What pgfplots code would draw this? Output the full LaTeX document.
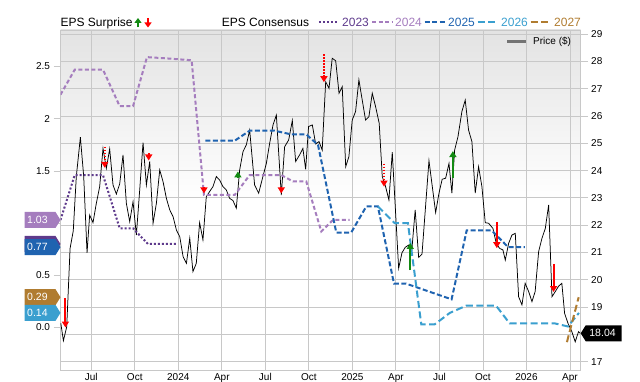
\documentclass[border=0pt]{standalone}
\usepackage{fontspec}
\setmainfont{Liberation Sans}
\usepackage{pgfplots}
\pgfplotsset{compat=1.18}
\usetikzlibrary{arrows.meta}
\definecolor{cA}{HTML}{5E3A8C}
\definecolor{cB}{HTML}{A57DBE}
\definecolor{cC}{HTML}{1F63B0}
\definecolor{cD}{HTML}{3A9FCF}
\definecolor{cE}{HTML}{B07C30}
\definecolor{gridc}{HTML}{C8C8C8}
\definecolor{upg}{HTML}{138A13}
\definecolor{dnr}{HTML}{FF0000}
\newcommand\tagL[3]{%
 \fill[#2] (#1) -- ++(-5bp,8bp) -- ++(-31bp,0) -- ++(0,-16bp) -- ++(31bp,0) -- cycle;
 \node[anchor=west, inner sep=0pt, text=white, font=\fontsize{10.5bp}{12bp}\selectfont] at ([xshift=-33.5bp]#1) {#3};}
\pgfplotsset{
 common/.style={at={(60.5bp,12bp)}, anchor=south west, width=520.2bp, height=340bp, scale only axis,
   xmin=-8.12, xmax=27.74,
   tick label style={font=\fontsize{10bp}{12bp}\selectfont, text=black},
   tick align=outside, major tick length=7bp,
   every tick/.style={draw=gridc, line width=0.8bp}},
 up/.style={upg, line width=2bp, -{Triangle[width=7bp,length=6bp]}},
 dn/.style={dnr, line width=2bp, -{Triangle[width=7bp,length=6bp]}},
 dot/.style={dash pattern=on 1.5bp off 1.5bp},
}
\begin{document}
\begin{tikzpicture}
\path[use as bounding box] (0,0) rectangle (640bp,382bp);
% ---------- price axis ----------
\begin{axis}[common,
  ymin=16.696, ymax=29.146,
  ytick={17,18,19,20,21,22,23,24,25,26,27,28,29},
  yticklabels={17,,19,20,21,22,23,24,25,26,27,28,29},
  ytick pos=right, yticklabel pos=right,
  xtick={-6,-3,0,3,6,9,12,15,18,21,24,27},
  xticklabels={Jul,Oct,2024,Apr,Jul,Oct,2025,Apr,Jul,Oct,2026,Apr},
  xtick pos=bottom,
  x tick style={draw=none},
  xticklabel style={inner sep=0pt, anchor=north, yshift=3.5bp},
  grid=major, grid style={gridc, line width=0.8bp},
  axis line style={gridc, line width=0.8bp},
  axis background/.style={top color=black!11, bottom color=white, middle color=white},
]
\addplot[black, line width=0.75bp] table {
m p
-8.10 18.41
-7.92 17.77
-7.69 18.28
-7.46 21.15
-7.24 21.79
-7.03 23.78
-6.75 25.22
-6.52 23.78
-6.29 20.99
-6.11 22.37
-5.88 22.09
-5.65 22.80
-5.42 23.41
-5.19 24.81
-4.96 24.08
-4.73 24.79
-4.50 23.47
-4.27 23.14
-4.04 23.51
-3.81 24.57
-3.58 22.80
-3.35 22.13
-3.12 22.86
-2.89 21.64
-2.66 23.29
-2.43 25.02
-2.20 23.47
-1.97 24.33
-1.74 22.07
-1.51 22.80
-1.28 24.02
-1.05 23.59
-0.82 22.98
-0.59 22.56
-0.36 22.31
-0.13 21.82
0.10 21.58
0.33 20.85
0.56 20.60
0.79 21.52
1.01 20.30
1.24 20.60
1.47 22.09
1.70 21.46
1.93 23.04
2.16 23.23
2.39 23.41
2.62 23.78
2.85 23.65
3.08 23.41
3.31 23.29
3.54 22.98
3.77 22.90
4.00 22.62
4.23 24.02
4.46 24.69
4.69 24.94
4.92 25.48
5.26 23.47
5.54 23.17
5.77 23.65
6.07 24.26
6.30 25.00
6.53 25.67
6.76 26.03
7.10 23.10
7.33 24.87
7.61 25.12
7.86 25.83
8.09 24.33
8.36 24.57
8.59 24.81
8.78 24.04
8.98 25.61
9.24 25.67
9.47 24.97
9.70 25.06
9.92 24.75
10.16 27.25
10.39 27.01
10.61 28.11
10.85 28.02
11.08 26.83
11.30 27.07
11.54 24.14
11.76 24.51
11.99 25.85
12.22 26.16
12.45 27.32
12.68 26.58
12.91 25.85
13.14 25.97
13.37 26.83
13.60 26.34
13.85 25.73
14.06 23.78
14.29 23.41
14.52 22.92
14.75 24.67
15.19 20.42
15.42 20.99
15.65 21.19
15.88 21.27
16.10 21.09
16.33 22.56
16.57 20.82
16.80 20.94
17.28 24.36
17.51 23.41
17.74 22.46
17.97 23.17
18.19 23.68
18.43 23.72
18.66 24.26
18.86 23.17
19.05 24.75
19.28 25.24
19.55 26.16
19.78 26.58
20.01 25.48
20.24 25.06
20.47 23.17
20.70 24.14
20.93 23.41
21.16 22.09
21.39 22.07
21.69 21.88
21.92 21.33
22.15 21.15
22.38 21.09
22.54 20.72
22.77 21.33
23.00 21.64
23.23 21.70
23.46 19.38
23.69 19.08
23.91 19.87
24.15 19.57
24.38 19.20
24.60 19.57
24.84 21.03
25.07 21.52
25.30 21.88
25.53 22.74
25.76 19.38
25.99 19.57
26.22 19.77
26.44 19.87
26.63 18.77
26.86 18.41
27.13 18.10
27.36 17.73
27.59 18.10
27.70 18.04
};
\coordinate (pr) at (axis cs:27.74,18.04);
\end{axis}
% ---------- EPS axis ----------
\begin{axis}[common,
  ymin=-0.407, ymax=2.850,
  axis line style={draw=none},
  xtick=\empty,
  ytick={0,0.5,1,1.5,2,2.5},
  yticklabels={0.0,0.5,,1.5,2,2.5},
  ytick pos=left, yticklabel pos=left,
]
% 2023
\addplot[cA, line width=2bp, dash pattern=on 2bp off 2bp] coordinates {
(-8.12,1.03) (-7.14,1.46) (-5.19,1.46) (-4.04,0.95) (-3.12,0.95) (-2.09,0.80) (-0.14,0.80)};
% 2024
\addplot[cB, line width=2bp, dash pattern=on 4bp off 2.5bp] coordinates {
(-8.12,2.23) (-7.14,2.47) (-5.19,2.47) (-4.04,2.12) (-3.12,2.12) (-2.16,2.59) (-1.0,2.58) (0.92,2.56)
(1.77,1.27) (3.89,1.27) (4.92,1.46) (7.10,1.46) (7.90,1.40) (8.82,1.40) (9.86,0.92) (10.66,1.03) (11.81,1.03)};
% 2025
\addplot[cC, line width=2bp, dash pattern=on 5bp off 2.5bp] coordinates {
(1.86,1.79) (3.89,1.79) (4.92,1.885) (6.64,1.885) (7.79,1.85) (8.82,1.85) (9.63,1.75) (10.89,0.91)
(11.92,0.91) (12.96,1.16) (13.76,1.16) (14.87,0.42) (15.71,0.42) (18.84,0.27) (19.88,0.93)
(21.60,0.93) (22.74,0.77) (23.89,0.77)};
% 2026
\addplot[cD, line width=2bp, dash pattern=on 7bp off 3.5bp] coordinates {
(13.76,1.16) (14.91,1.00) (15.83,1.00) (16.75,0.03) (17.67,0.03) (18.72,0.14) (19.86,0.21)
(21.90,0.21) (22.84,0.04) (25.94,0.04) (26.86,0.01) (27.62,0.14)};
% 2027
\addplot[cE, line width=2bp, dash pattern=on 7bp off 3.5bp] coordinates {
(26.79,-0.14) (27.60,0.29)};
% EPS surprise arrows
\addplot[dn] coordinates {(-7.78,0.28) (-7.78,0.0)};
\addplot[dn, dot] coordinates {(-5.07,1.73) (-5.07,1.53)};
\addplot[dn, dot] coordinates {(-2.04,1.67) (-2.04,1.60)};
\addplot[dn] coordinates {(1.77,1.345) (1.77,1.285)};
\addplot[up] coordinates {(4.11,1.43) (4.11,1.495)};
\addplot[dn] coordinates {(7.10,1.345) (7.10,1.285)};
\addplot[dn, dot] coordinates {(10.04,2.62) (10.04,2.35)};
\addplot[dn, dot] coordinates {(14.18,1.57) (14.18,1.35)};
\addplot[up] coordinates {(15.99,0.55) (15.99,0.81)};
\addplot[up] coordinates {(18.93,1.43) (18.93,1.69)};
\addplot[dn] coordinates {(21.96,1.01) (21.96,0.76)};
\addplot[dn] coordinates {(25.87,0.61) (25.87,0.34)};
\coordinate (t23) at (axis cs:-8.12,0.80);
\coordinate (t25) at (axis cs:-8.12,0.77);
\coordinate (t24) at (axis cs:-8.12,1.03);
\coordinate (t27) at (axis cs:-8.12,0.29);
\coordinate (t26) at (axis cs:-8.12,0.14);
\end{axis}
% ---------- value tags ----------
\fill[cA] (t23) -- ++(-5bp,8bp) -- ++(-31bp,0) -- ++(0,-16bp) -- ++(31bp,0) -- cycle;
\tagL{t25}{cC}{0.77}
\tagL{t24}{cB}{1.03}
\tagL{t27}{cE}{0.29}
\tagL{t26}{cD}{0.14}
\fill[black] (pr) -- ++(5bp,8bp) -- ++(36bp,0) -- ++(0,-16bp) -- ++(-36bp,0) -- cycle;
\node[anchor=west, inner sep=0pt, text=white, font=\fontsize{10.5bp}{12bp}\selectfont] at ([xshift=8.5bp]pr) {18.04};
% ---------- legend ----------
\begin{scope}[font=\fontsize{12bp}{14bp}\selectfont]
\node[anchor=base west, inner sep=0pt] at (60.4bp,355.5bp) {EPS Surprise};
\draw[upg, line width=2bp, -{Triangle[width=7bp,length=5bp]}] (138bp,354.5bp) -- (138bp,364bp);
\draw[dnr, line width=2bp, -{Triangle[width=7bp,length=5bp]}] (148bp,364bp) -- (148bp,354.5bp);
\node[anchor=base west, inner sep=0pt] at (221.6bp,355.5bp) {EPS Consensus};
\draw[cA, line width=2bp, dash pattern=on 2bp off 2bp] (318.8bp,359.5bp) -- (337bp,359.5bp);
\node[anchor=base west, inner sep=0pt, text=cA] at (342bp,355.5bp) {2023};
\draw[cB, line width=2bp, dash pattern=on 4bp off 2.5bp] (372bp,359.5bp) -- (392bp,359.5bp);
\node[anchor=base west, inner sep=0pt, text=cB] at (395bp,355.5bp) {2024};
\draw[cC, line width=2bp, dash pattern=on 5bp off 2.5bp] (424.5bp,359.5bp) -- (445bp,359.5bp);
\node[anchor=base west, inner sep=0pt, text=cC] at (448bp,355.5bp) {2025};
\draw[cD, line width=2bp, dash pattern=on 7bp off 3.5bp] (477.5bp,359.5bp) -- (496bp,359.5bp);
\node[anchor=base west, inner sep=0pt, text=cD] at (501bp,355.5bp) {2026};
\draw[cE, line width=2bp, dash pattern=on 7bp off 3.5bp] (530.6bp,359.5bp) -- (551bp,359.5bp);
\node[anchor=base west, inner sep=0pt, text=cE] at (554bp,355.5bp) {2027};
\end{scope}
\draw[black!55, line width=2.5bp] (507.3bp,340.3bp) -- (526.3bp,340.3bp);
\node[anchor=west, inner sep=0pt, font=\fontsize{10bp}{12bp}\selectfont] at (533bp,340.3bp) {Price (\$)};
\end{tikzpicture}
\end{document}
